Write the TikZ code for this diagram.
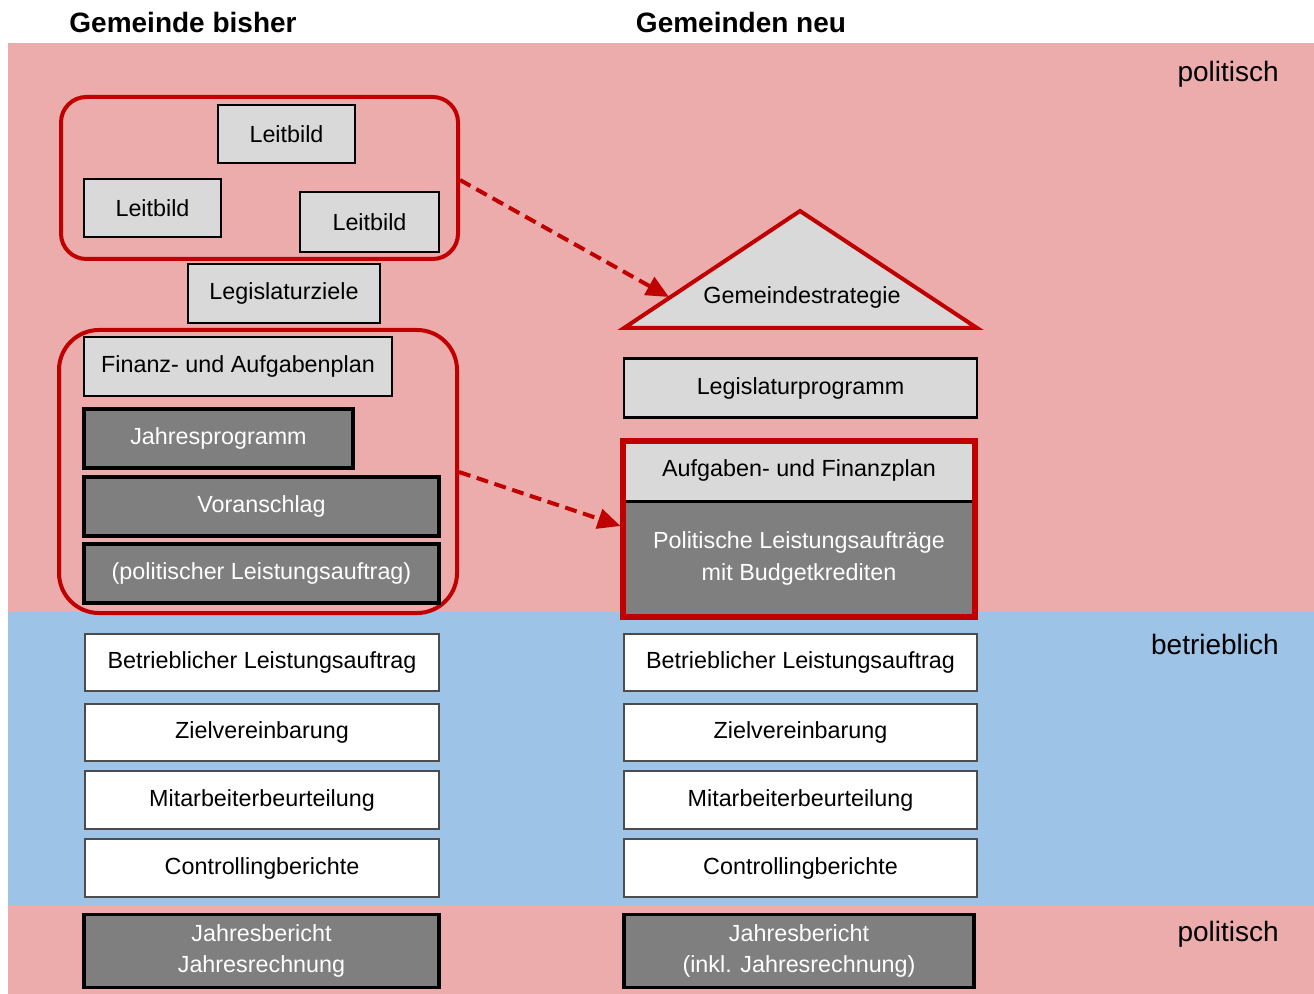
\documentclass[tikz,border=0pt]{standalone}
\usepackage{fontspec}
\setmainfont{Liberation Sans}
\usetikzlibrary{arrows.meta}
\definecolor{bgpink}{HTML}{ECACAC}
\definecolor{bgblue}{HTML}{9DC3E6}
\definecolor{lgray}{HTML}{D9D9D9}
\definecolor{dgray}{HTML}{7F7F7F}
\definecolor{dred}{HTML}{C00000}
\begin{document}
\begin{tikzpicture}[x=0.75pt,y=-0.75pt,
  every node/.style={font=\fontsize{17.5pt}{23.5pt}\selectfont, inner sep=0pt, align=center},
  sz/.style 2 args={minimum width=#1*0.75pt, minimum height=#2*0.75pt},
  lbox/.style={draw=black, line width=2.2pt, fill=lgray, text=black},
  dbox/.style={draw=black, line width=2.6pt, fill=dgray, text=white},
  wbox/.style={draw=black!70, line width=0.8pt, fill=white, text=black},
  redgroup/.style={draw=dred, line width=3pt},
  dasharrow/.style={draw=dred, line width=3pt, dash pattern=on 9pt off 5pt, -{Triangle[length=17pt,width=15pt]}},
  bandlabel/.style={font=\fontsize{21pt}{25pt}\selectfont, anchor=east},
  title/.style={font=\fontsize{21pt}{25pt}\selectfont\bfseries}
]
\useasboundingbox (0,0) rectangle (1314,994);
\fill[white] (0,0) rectangle (1314,994);
% bands
\fill[bgpink] (8,43) rectangle (1314,612);
\fill[bgblue] (8,612) rectangle (1314,905);
\fill[bgpink] (8,905) rectangle (1314,994);

% titles
\node[title] (t1) at (183,22) {Gemeinde bisher};
\node[title] (t2) at (741,22) {Gemeinden neu};

% band labels
\node[bandlabel] (p1) at (1279,74) {politisch};
\node[bandlabel] (b1) at (1279,644) {betrieblich};
\node[bandlabel] (p2) at (1279,934) {politisch};

% left: leitbild group
\node[redgroup, rounded corners=19pt, sz={397}{162}] (g1) at (259.5,178) {};
\node[lbox, sz={137}{58}] (lb1) at (286.5,134) {Leitbild};
\node[lbox, sz={137}{58}] (lb2) at (152.5,208) {Leitbild};
\node[lbox, sz={139}{60}] (lb3) at (369.5,222) {Leitbild};
\node[lbox, sz={192}{59}] (lz) at (284,293.5) {Legislaturziele};

% left: planning group
\node[redgroup, rounded corners=30pt, sz={398}{283}] (g2) at (258,471.5) {};
\node[lbox, sz={308}{59}] (fap) at (238,366.5) {Finanz- und Aufgabenplan};
\node[dbox, sz={269}{59}] (jp) at (218.5,438.5) {Jahresprogramm};
\node[dbox, sz={355}{59}] (va) at (261.5,506.5) {Voranschlag};
\node[dbox, sz={355}{59}] (pla) at (261.5,573.5) {(politischer Leistungsauftrag)};

% left: operational
\node[wbox, sz={354}{57}] (lw1) at (262,662.5) {Betrieblicher Leistungsauftrag};
\node[wbox, sz={354}{57}] (lw2) at (262,732.5) {Zielvereinbarung};
\node[wbox, sz={354}{58}] (lw3) at (262,800) {Mitarbeiterbeurteilung};
\node[wbox, sz={354}{58}] (lw4) at (262,868) {Controllingberichte};
\node[dbox, sz={355}{73}] (ljb) at (261.5,951) {Jahresbericht\\Jahresrechnung};

% right: strategy triangle
\filldraw[fill=lgray, draw=dred, line width=3pt, line join=miter] (624,328) -- (800,211) -- (977,328) -- cycle;
\node (gs) at (802,297) {Gemeindestrategie};
\coordinate (gsin) at (669,297);

\node[lbox, sz={353}{59}] (lp) at (800.5,388) {Legislaturprogramm};

% right: red framed block
\node[lbox, draw=none, sz={352}{59}] (afp) at (799,470.5) {Aufgaben- und Finanzplan};
\node[dbox, draw=none, sz={352}{117}] (plb) at (799,558.5) {Politische Leistungsaufträge\\mit Budgetkrediten};
\draw[black, line width=2.5pt] (afp.south west) -- (afp.south east);
\node[draw=dred, line width=3.8pt, sz={352}{176}] (rb) at (799,529) {};

% right: operational
\node[wbox, sz={353}{57}] (rw1) at (800.5,662.5) {Betrieblicher Leistungsauftrag};
\node[wbox, sz={353}{57}] (rw2) at (800.5,732.5) {Zielvereinbarung};
\node[wbox, sz={353}{58}] (rw3) at (800.5,800) {Mitarbeiterbeurteilung};
\node[wbox, sz={353}{58}] (rw4) at (800.5,868) {Controllingberichte};
\node[dbox, sz={350}{73}] (rjb) at (799,951) {Jahresbericht\\(inkl. Jahresrechnung)};

% arrows
\draw[dasharrow] (g1.east |- 0,180) -- (gsin);
\draw[dasharrow] (g2.east |- 0,472) -- (rb.west |- 0,526);
\end{tikzpicture}
\end{document}
